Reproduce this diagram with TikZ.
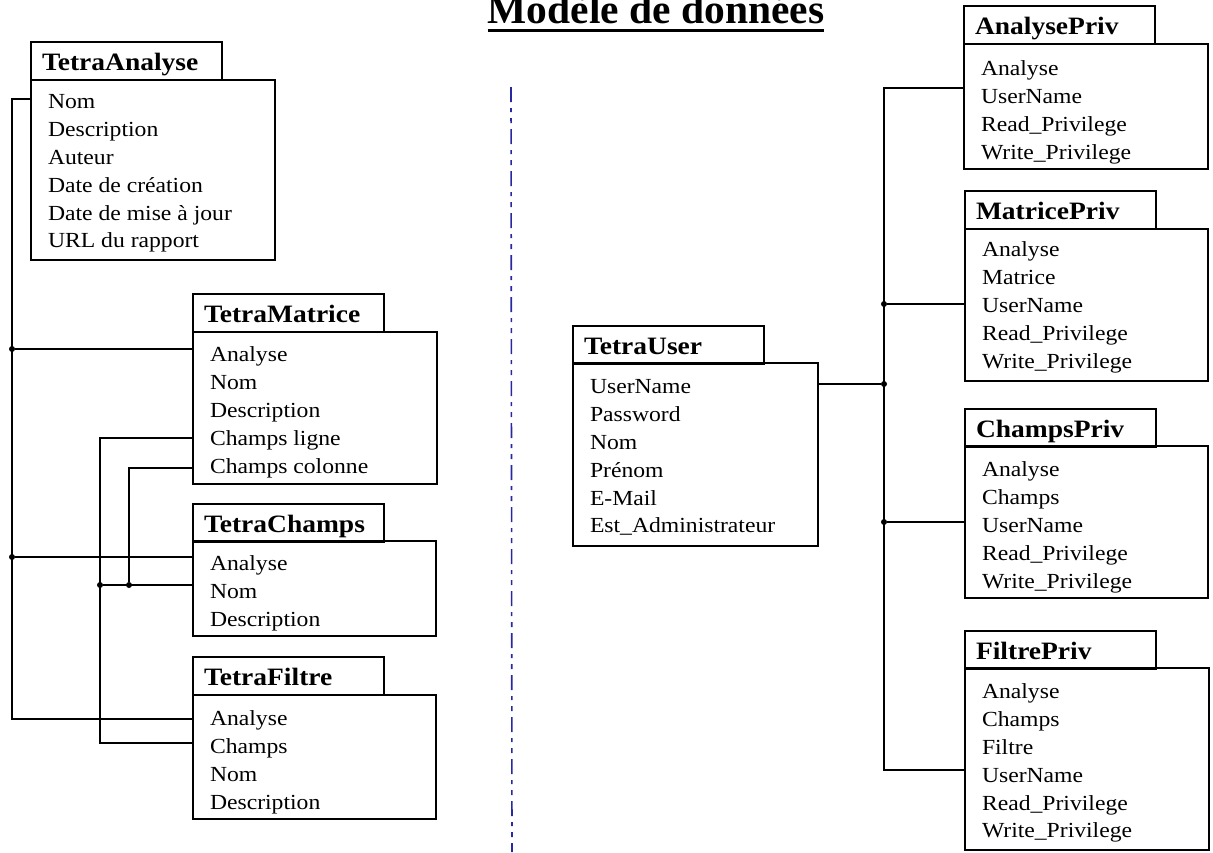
\documentclass[tikz,border=0pt]{standalone}
\usepackage{fontspec}
\setmainfont{Liberation Serif}
\newfontfamily\boxfont{Liberation Serif}[FakeStretch=1.1]
\begin{document}
\begin{tikzpicture}[x=1pt,y=-1pt,
  every node/.style={inner sep=0pt, outer sep=0pt},
  hdr/.style={draw, line width=1.2pt, anchor=north west, minimum width=191pt, minimum height=38pt,
    text width=169pt, inner xsep=11pt, text height=19pt, text depth=0pt, align=left,
    font=\boxfont\fontsize{25}{28}\selectfont\bfseries},
  boxr/.style={draw, line width=1.2pt, anchor=north west},
  rows/.style={anchor=north west, align=left, font=\boxfont\fontsize{21.5}{27.8}\selectfont},
  conn/.style={line width=1.2pt},
  jdot/.style={circle, fill=black, minimum size=6pt},
  divider/.style={line width=1.6pt, draw={rgb,255:red,40;green,40;blue,160},
    dash pattern=on 15pt off 6pt on 4pt off 6pt on 5pt off 6pt}
]
\useasboundingbox (0,0) rectangle (1213,852);

% Title
\node[anchor=base, font=\fontsize{41.5}{44}\selectfont\bfseries] (title) at (656,23) {Modèle de données};
\draw[line width=3pt] ([yshift=-7pt]title.base west) -- ([yshift=-7pt]title.base east);

% Divider
\coordinate (dtop) at (511,87);
\coordinate (dbot) at (512,852);
\draw[divider] (dtop) -- (dbot);

% ---------- Left side ----------
\node[hdr] (ta-h) at (31,42) {TetraAnalyse};
\node[boxr, minimum width=244pt, minimum height=180pt] (ta-b) at (31,80) {};
\node[rows] (ta-t) at (48,89.5)
 {\strut Nom\\Description\\Auteur\\Date de création\\Date de mise à jour\\URL du rapport};

\node[hdr] (tm-h) at (193,294) {TetraMatrice};
\node[boxr, minimum width=244pt, minimum height=152pt] (tm-b) at (193,332) {};
\node[rows] (tm-t) at (210,342.5)
 {\strut Analyse\\Nom\\Description\\Champs ligne\\Champs colonne};

\node[hdr] (tc-h) at (193,504) {TetraChamps};
\node[boxr, minimum width=243pt, minimum height=95pt] (tc-b) at (193,541) {};
\node[rows] (tc-t) at (210,551.5)
 {\strut Analyse\\Nom\\Description};

\node[hdr] (tf-h) at (193,657) {TetraFiltre};
\node[boxr, minimum width=243pt, minimum height=124pt] (tf-b) at (193,695) {};
\node[rows] (tf-t) at (210,706.5)
 {\strut Analyse\\Champs\\Nom\\Description};

% Left connectors
\coordinate (lb-top) at (12,99);
\coordinate (lb-bot) at (12,719);
\node[jdot] (j1) at (12,349) {};
\node[jdot] (j2) at (12,557) {};
\draw[conn] (ta-b.west |- lb-top) -- (lb-top) -- (lb-bot) -- (tf-b.west |- lb-bot);
\draw[conn] (j1) -- (tm-b.west |- j1);
\draw[conn] (j2) -- (tc-b.west |- j2);

\coordinate (cl-a) at (100,438);
\coordinate (cl-b) at (100,743);
\node[jdot] (j3) at (100,585) {};
\draw[conn] (tm-b.west |- cl-a) -- (cl-a) -- (cl-b) -- (tf-b.west |- cl-b);

\coordinate (cc-a) at (129,468);
\node[jdot] (j4) at (129,585) {};
\draw[conn] (tm-b.west |- cc-a) -- (cc-a) -- (j4);
\draw[conn] (j3) -- (tc-b.west |- j3);

% ---------- TetraUser ----------
\node[hdr] (tu-h) at (573,326) {TetraUser};
\node[boxr, minimum width=245pt, minimum height=183pt] (tu-b) at (573,363) {};
\node[rows] (tu-t) at (590,374.5)
 {\strut UserName\\Password\\Nom\\Prénom\\E-Mail\\Est\_Administrateur};

% ---------- Right side ----------
\node[hdr] (ap-h) at (964,6) {AnalysePriv};
\node[boxr, minimum width=244pt, minimum height=125pt] (ap-b) at (964,44) {};
\node[rows] (ap-t) at (981,56.5)
 {\strut Analyse\\UserName\\Read\_Privilege\\Write\_Privilege};

\node[hdr] (mp-h) at (965,191) {MatricePriv};
\node[boxr, minimum width=243pt, minimum height=152pt] (mp-b) at (965,229) {};
\node[rows] (mp-t) at (982,237.5)
 {\strut Analyse\\Matrice\\UserName\\Read\_Privilege\\Write\_Privilege};

\node[hdr] (cp-h) at (965,409) {ChampsPriv};
\node[boxr, minimum width=243pt, minimum height=152pt] (cp-b) at (965,446) {};
\node[rows] (cp-t) at (982,457.5)
 {\strut Analyse\\Champs\\UserName\\Read\_Privilege\\Write\_Privilege};

\node[hdr] (fp-h) at (965,631) {FiltrePriv};
\node[boxr, minimum width=244pt, minimum height=182pt] (fp-b) at (965,668) {};
\node[rows] (fp-t) at (982,679.5)
 {\strut Analyse\\Champs\\Filtre\\UserName\\Read\_Privilege\\Write\_Privilege};

% Right connectors
\coordinate (rb-top) at (884,88);
\coordinate (rb-bot) at (884,770);
\node[jdot] (j5) at (884,304) {};
\node[jdot] (j6) at (884,384) {};
\node[jdot] (j7) at (884,522) {};
\draw[conn] (ap-b.west |- rb-top) -- (rb-top) -- (rb-bot) -- (fp-b.west |- rb-bot);
\draw[conn] (j5) -- (mp-b.west |- j5);
\draw[conn] (tu-b.east |- j6) -- (j6);
\draw[conn] (j7) -- (cp-b.west |- j7);

\end{tikzpicture}
\end{document}
